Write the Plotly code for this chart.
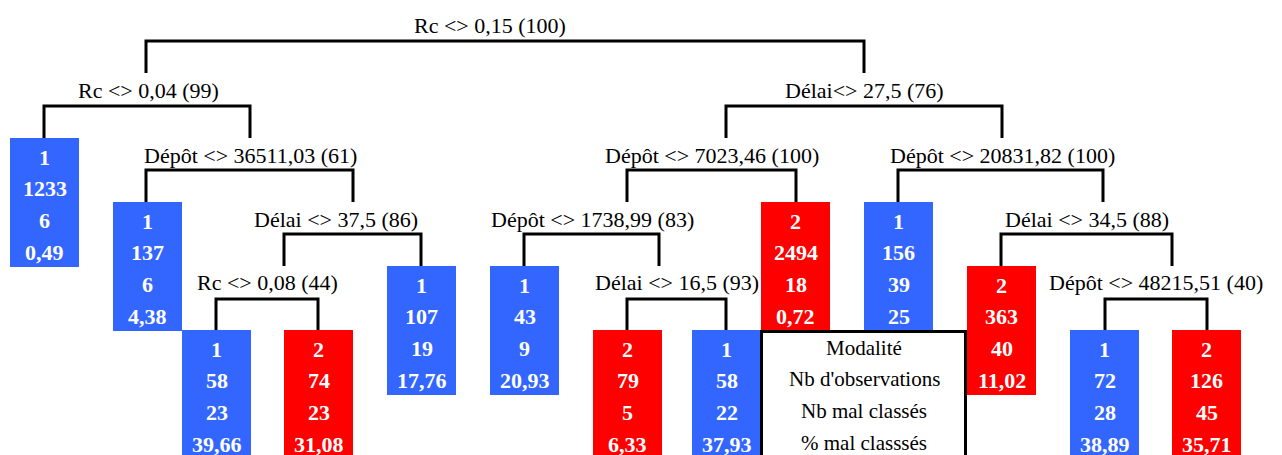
import plotly.graph_objects as go

# --- split nodes (label text) ---
split_labels = [
    "Rc <> 0,15 (100)",
    "Rc <> 0,04 (99)",
    "Dépôt <> 36511,03 (61)",
    "Délai <> 37,5 (86)",
    "Rc <> 0,08 (44)",
    "Délai<> 27,5 (76)",
    "Dépôt <> 7023,46 (100)",
    "Dépôt <> 1738,99 (83)",
    "Délai <> 16,5 (93)",
    "Dépôt <> 20831,82 (100)",
    "Délai <> 34,5 (88)",
    "Dépôt <> 48215,51 (40)",
]

# --- leaves ---
leaf_modalite = [1, 1, 1, 1, 2, 1, 2, 1, 2, 1, 2, 1, 2]
leaf_nb_obs = [1233, 137, 107, 58, 74, 43, 79, 58, 2494, 156, 363, 72, 126]
leaf_mal_classes = [6, 6, 19, 23, 23, 9, 5, 22, 18, 39, 40, 28, 45]
leaf_pct_mal = ["0,49", "4,38", "17,76", "39,66", "31,08", "20,93", "6,33",
                "37,93", "0,72", "25", "11,02", "38,89", "35,71"]

legend_rows = ["Modalité", "Nb d'observations", "Nb mal classés", "% mal classsés"]

# --- layout of the drawing (pixel coordinates) ---
# label x, label y, bracket y, left x, right x, bottom of drops
split_pos = [
    (490, 25, 41, 146, 864, 73),
    (148, 90, 106, 44, 250, 138),
    (250, 155, 170, 146, 353, 202),
    (336, 219, 234, 284, 421, 266),
    (267, 282, 299, 216, 318, 330),
    (864, 90, 106, 726, 1002, 138),
    (712, 155, 170, 627, 796, 202),
    (592, 219, 234, 524, 659, 266),
    (677, 282, 299, 627, 726, 330),
    (1002, 155, 170, 898, 1103, 202),
    (1087, 219, 234, 1001, 1172, 266),
    (1156, 282, 299, 1105, 1207, 330),
]
# leaf box left x, top y
leaf_pos = [(10, 138), (113, 202), (387, 266), (182, 330), (284, 330),
            (490, 266), (593, 330), (692, 330), (761, 202), (864, 202),
            (967, 266), (1070, 330), (1172, 330)]
box_w, box_h = 69, 129
row_offsets = [19, 50, 82, 114]
colors = {1: "#3366FF", 2: "#FF0000"}
serif = "Liberation Serif, Times New Roman, serif"

shapes = []
annotations = []

for label, (lx, ly, by, xl, xr, yb) in zip(split_labels, split_pos):
    shapes.append(dict(
        type="path",
        path=f"M {xl},{yb} L {xl},{by} L {xr},{by} L {xr},{yb}",
        line=dict(color="black", width=3),
    ))
    annotations.append(dict(x=lx, y=ly, text=label, showarrow=False,
                            font=dict(family=serif, size=22, color="black")))

for i, (x0, y0) in enumerate(leaf_pos):
    shapes.append(dict(type="rect", x0=x0, x1=x0 + box_w, y0=y0, y1=y0 + box_h,
                       fillcolor=colors[leaf_modalite[i]], line=dict(width=0)))
    vals = [leaf_modalite[i], leaf_nb_obs[i], leaf_mal_classes[i], leaf_pct_mal[i]]
    for off, v in zip(row_offsets, vals):
        annotations.append(dict(x=x0 + box_w / 2, y=y0 + off, text=f"<b>{v}</b>",
                                showarrow=False,
                                font=dict(family=serif, size=22, color="white")))

# legend box
shapes.append(dict(type="path", path="M 761.5,470 L 761.5,331.5 L 965.5,331.5 L 965.5,470",
                   line=dict(color="black", width=3), fillcolor="white"))
for off, t in zip(row_offsets, legend_rows):
    annotations.append(dict(x=864, y=330 + off - 1, text=t, showarrow=False,
                            font=dict(family=serif, size=21, color="black")))

# the page body has an 8px margin, so the visible area starts at pixel 8
fig = go.Figure()
fig.update_layout(
    width=1282, height=455,
    margin=dict(l=0, r=0, t=0, b=0),
    paper_bgcolor="white", plot_bgcolor="white",
    xaxis=dict(range=[8, 1290], visible=False),
    yaxis=dict(range=[463, 8], visible=False),
    shapes=shapes, annotations=annotations, showlegend=False,
)
fig.write_html("out.html")
